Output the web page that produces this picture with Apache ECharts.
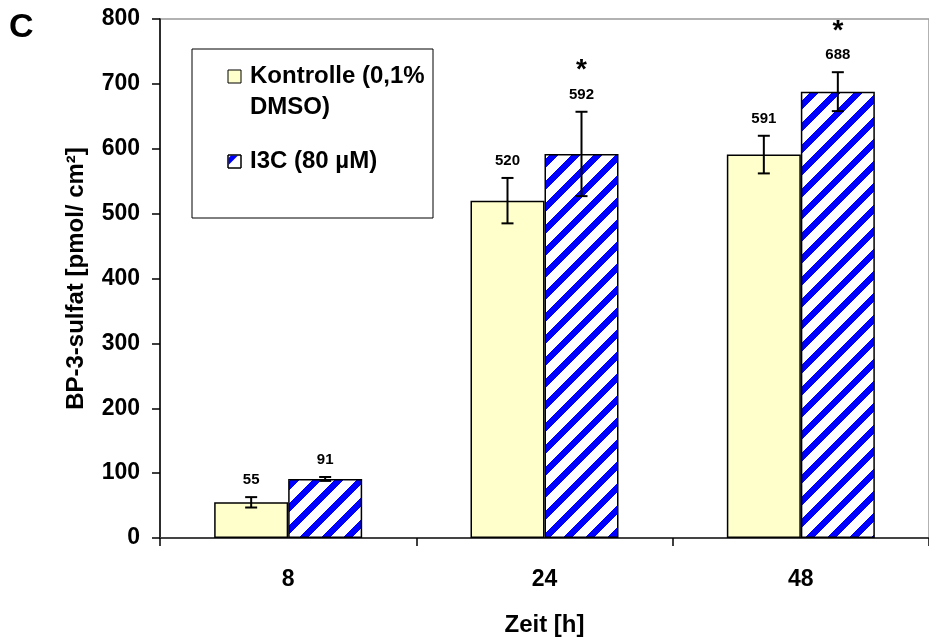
<!DOCTYPE html>
<html>
<head>
<meta charset="utf-8">
<script src="https://cdn.jsdelivr.net/npm/echarts@6/dist/echarts.min.js"></script>
<style>
  html, body { margin: 0; padding: 0; background: #fff; }
  #chart { width: 929px; height: 642px; }
</style>
</head>
<body>
<div id="chart"></div>
<script>
// Time points (hours) on the x axis
const categories = ['8', '24', '48'];
// Mean BP-3-sulfate per series and their error bar half-widths
const controlValues = [55, 520, 591];
const controlErrors = [8, 35, 29];
const i3cValues = [91, 592, 688];
const i3cErrors = [3, 65, 30];
// Which I3C means are marked significant (*)
const i3cSignificant = [false, true, true];
const seriesNames = ['Kontrolle (0,1%\nDMSO)', 'I3C (80 µM)'];
const yTickValues = [0, 100, 200, 300, 400, 500, 600, 700, 800];

const FONT = '"Liberation Sans", Arial, sans-serif';
const BAR_W = 74;

// Pixel tile of blue diagonal stripes on white
function makeHatch() {
  const P = 22, W = 9;
  const c = document.createElement('canvas');
  c.width = P; c.height = P;
  const ctx = c.getContext('2d');
  const img = ctx.createImageData(P, P);
  for (let y = 0; y < P; y++) {
    for (let x = 0; x < P; x++) {
      const k = (y * P + x) * 4;
      const blue = ((x + y) % P) < W;
      img.data[k] = blue ? 0 : 255;
      img.data[k + 1] = blue ? 0 : 255;
      img.data[k + 2] = 255;
      img.data[k + 3] = 255;
    }
  }
  ctx.putImageData(img, 0, 0);
  return c;
}
const hatch = makeHatch();

// Error bar + value label records: [category, mean, error, seriesIndex, star]
const errData = [];
categories.forEach((c, i) => {
  errData.push([i, controlValues[i], controlErrors[i], 0, 0]);
  errData.push([i, i3cValues[i], i3cErrors[i], 1, i3cSignificant[i] ? 1 : 0]);
});

function renderErr(params, api) {
  const i = api.value(0), v = api.value(1), e = api.value(2);
  const s = api.value(3), star = api.value(4);
  const x = api.coord([i, 0])[0] + (s === 0 ? -BAR_W / 2 : BAR_W / 2);
  const yTop = api.coord([i, v + e])[1];
  const yBot = api.coord([i, v - e])[1];
  const cap = 6;
  const lineStyle = { stroke: '#000', lineWidth: 2 };
  const children = [
    { type: 'line', shape: { x1: x, y1: yTop, x2: x, y2: yBot }, style: lineStyle },
    { type: 'line', shape: { x1: x - cap, y1: yTop, x2: x + cap, y2: yTop }, style: lineStyle },
    { type: 'line', shape: { x1: x - cap, y1: yBot, x2: x + cap, y2: yBot }, style: lineStyle },
    { type: 'text', x: x, y: yTop - 17,
      style: { text: String(v), font: 'bold 15px ' + FONT, fill: '#000', align: 'center', verticalAlign: 'middle' } }
  ];
  if (star) {
    children.push({ type: 'text', x: x, y: yTop - 17 - 24,
      style: { text: '*', font: 'bold 28px ' + FONT, fill: '#000', align: 'center', verticalAlign: 'middle' } });
  }
  return { type: 'group', children };
}

// Legend box drawn as graphics
const legendGraphics = [
  { type: 'rect', shape: { x: 192, y: 49, width: 241, height: 169 },
    style: { fill: '#fff', stroke: '#000', lineWidth: 1 }, z: 10 },
  { type: 'rect', shape: { x: 228, y: 70, width: 13, height: 13 },
    style: { fill: '#FFFFCC', stroke: '#000', lineWidth: 1 }, z: 11 },
  { type: 'text', x: 250, y: 61, z: 11,
    style: { text: seriesNames[0], font: 'bold 24px ' + FONT, fill: '#000', lineHeight: 31, verticalAlign: 'top' } },
  { type: 'rect', shape: { x: 228, y: 155, width: 13, height: 13 },
    style: { fill: '#fff', stroke: '#000', lineWidth: 1 }, z: 11 },
  { type: 'polygon', shape: { points: [[231, 155.5], [238, 155.5], [228.5, 165], [228.5, 158]] },
    style: { fill: '#0000FF' }, z: 12 },
  { type: 'rect', shape: { x: 228, y: 155, width: 13, height: 13 },
    style: { fill: 'none', stroke: '#000', lineWidth: 1 }, z: 13 },
  { type: 'text', x: 250, y: 146, z: 11,
    style: { text: seriesNames[1], font: 'bold 24px ' + FONT, fill: '#000', lineHeight: 31, verticalAlign: 'top' } },
  { type: 'text', x: 9, y: 11, z: 11,
    style: { text: 'C', font: 'bold 34px ' + FONT, fill: '#000' } }
];

const chart = echarts.init(document.getElementById('chart'), null, { renderer: 'canvas' });
chart.setOption({
  animation: false,
  backgroundColor: '#fff',
  grid: { left: 160, top: 19, width: 780, height: 525, show: true,
          borderColor: '#999', borderWidth: 1.5, backgroundColor: 'transparent' },
  xAxis: {
    type: 'category',
    data: categories,
    name: 'Zeit [h]',
    nameLocation: 'middle',
    nameGap: 75,
    nameTextStyle: { fontFamily: FONT, fontWeight: 'bold', fontSize: 24, color: '#000' },
    axisLine: { lineStyle: { color: '#444', width: 2 } },
    axisTick: { show: true, length: 8, lineStyle: { color: '#000', width: 1.5 } },
    axisLabel: { margin: 30, fontFamily: FONT, fontWeight: 'bold', fontSize: 23, color: '#000' }
  },
  yAxis: {
    type: 'value',
    min: yTickValues[0],
    max: yTickValues[yTickValues.length - 1],
    interval: yTickValues[1] - yTickValues[0],
    name: 'BP-3-sulfat [pmol/ cm²]',
    nameLocation: 'middle',
    nameRotate: 90,
    nameGap: 72,
    nameTextStyle: { fontFamily: FONT, fontWeight: 'bold', fontSize: 24, color: '#000' },
    axisLine: { show: true, lineStyle: { color: '#000', width: 1.5 } },
    axisTick: { show: true, length: 8, lineStyle: { color: '#000', width: 1.5 } },
    axisLabel: { margin: 20, fontFamily: FONT, fontWeight: 'bold', fontSize: 23, color: '#000' },
    splitLine: { show: false }
  },
  series: [
    { type: 'bar', name: seriesNames[0], data: controlValues, barWidth: BAR_W, barGap: '0%',
      itemStyle: { color: '#FFFFCC', borderColor: '#000', borderWidth: 1.5 } },
    { type: 'bar', name: seriesNames[1], data: i3cValues, barWidth: BAR_W, barGap: '0%',
      itemStyle: { color: { image: hatch, repeat: 'repeat' }, borderColor: '#000', borderWidth: 1.5 } },
    { type: 'custom', renderItem: renderErr, data: errData, z: 5, clip: false,
      encode: { x: 0, y: 1 } }
  ],
  graphic: legendGraphics
});
</script>
</body>
</html>
